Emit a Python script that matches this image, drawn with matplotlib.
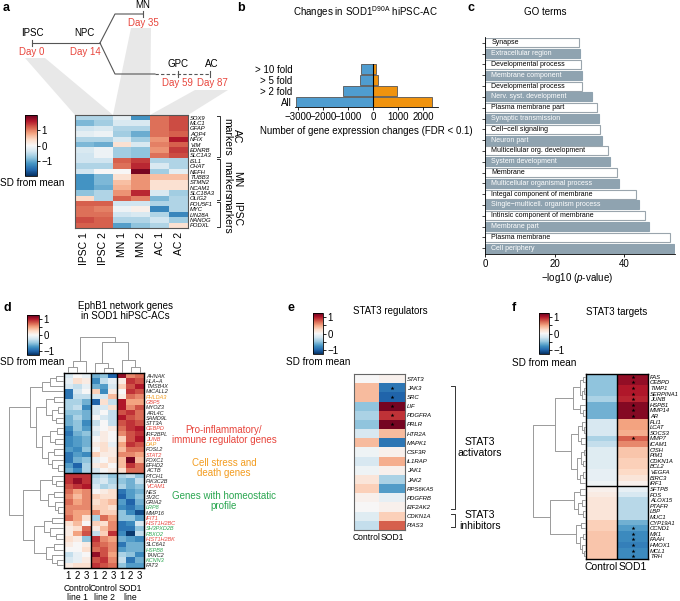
import numpy as np
import matplotlib
matplotlib.use('Agg')
import matplotlib.pyplot as plt
from matplotlib.patches import Polygon
from matplotlib.ticker import FixedLocator
from matplotlib import transforms

plt.rcParams['font.family'] = ['Liberation Sans', 'DejaVu Sans']
plt.rcParams['font.size'] = 7
plt.rcParams['mathtext.fontset'] = 'custom'
plt.rcParams['mathtext.rm'] = 'Liberation Sans'
plt.rcParams['mathtext.it'] = 'Liberation Sans:italic'
plt.rcParams['axes.linewidth'] = 0.6

RED = '#e8453c'
ORANGE = '#f39c1f'
GREEN = '#2aa650'
DENDRO = '#9a9a9a'
CMAP = 'RdBu_r'

# ---------------- panel a ----------------
a_stages = ['IPSC', 'NPC', 'MN', 'GPC', 'AC']
a_days = ['Day 0', 'Day 14', 'Day 35', 'Day 59', 'Day 87']
a_samples = ['IPSC 1', 'IPSC 2', 'MN 1', 'MN 2', 'AC 1', 'AC 2']
a_genes = ['SOX9', 'MLC1', 'GFAP', 'AQP4', 'NFIX', 'VIM', 'EDNRB', 'SLC1A3',
           'ISL1', 'CHAT', 'NEFH', 'TUBB3', 'STMN2', 'NCAM1', 'SLC18A3', 'OLIG2',
           'POU5F1', 'MYC', 'LIN28A', 'NANOG', 'PODXL']
a_values = [
    [-0.6, -0.6, -0.2, -1.2, 1.1, 1.3],
    [-0.9, -0.7, -0.3, -0.3, 1.1, 1.3],
    [-0.4, -0.3, -0.6, -0.6, 1.1, 1.3],
    [-0.2, -0.1, -0.7, -1.0, 1.1, 1.2],
    [-0.6, -0.6, -0.3, -0.7, 0.9, 1.6],
    [-0.9, -1.0, 0.3, -0.3, 1.0, 1.2],
    [-0.3, -0.1, -0.7, -0.8, 0.9, 1.4],
    [-0.4, -0.1, -0.7, -0.8, 1.1, 1.3],
    [-0.4, -0.4, 1.2, 1.4, -0.6, -0.6],
    [-0.6, -0.6, 1.1, 1.5, -0.3, -0.6],
    [-0.4, 0.0, 0.0, 1.9, -0.7, -0.2],
    [-1.2, -0.9, 0.3, 0.9, 0.6, 0.6],
    [-1.2, -0.9, 0.6, 0.9, 0.3, 0.3],
    [-1.2, -1.0, 0.7, 0.9, 0.3, 0.3],
    [-0.8, -0.6, 0.9, 1.5, -0.3, -0.7],
    [0.4, -0.6, 1.2, 1.0, -0.9, -0.6],
    [1.2, 1.2, -0.4, -0.4, -0.6, -0.6],
    [1.1, 1.0, -0.1, 0.1, -1.3, -0.6],
    [1.1, 1.1, -0.4, -0.3, -0.6, -1.3],
    [1.3, 1.2, -0.6, -0.6, -0.4, -0.7],
    [1.2, 1.2, -1.1, -0.8, -0.6, 0.3],
]
a_groups = [('AC', 0, 7), ('MN', 8, 15), ('IPSC', 16, 20)]

# ---------------- panel b ----------------
b_cats = ['All', '> 2 fold', '> 5 fold', '> 10 fold']
b_down = [-3100, -1200, -530, -470]
b_up = [2350, 970, 200, 130]

# ---------------- panel c ----------------
c_terms = ['Synapse', 'Extracellular region', 'Developmental process',
           'Membrane component', 'Developmental process', 'Nerv. syst. development',
           'Plasma membrane part', 'Synaptic transmission', 'Cell\u2212cell signaling',
           'Neuron part', 'Multicellular org. development', 'System development',
           'Membrane', 'Multicellular organismal process', 'Integal component of membrane',
           'Single\u2212multicell. organism process', 'Intinsic component of membrane',
           'Membrane part', 'Plasma membrane', 'Cell periphery']
c_vals = [27.1, 27.3, 27.6, 27.9, 27.9, 30.6, 32.1, 32.8, 33.0, 33.6,
          35.2, 35.9, 37.8, 38.4, 43.2, 44.2, 45.8, 46.9, 53.2, 54.3]

# ---------------- panel d ----------------
d_genes = ['AHNAK', 'HLA\u2212A', 'TMSB4X', 'MICALL2', 'PHLDA3', 'GBP5', 'MYOZ3', 'ARL4C',
           'SAMD9L', 'STT3A', 'CEBPD', 'IRF2BPL', 'JUNB', 'DAP', 'FOSL2', 'STAT2',
           'FOXC1', 'EFHD2', 'ACTB', 'PTCH1', 'PIK3C2B', 'VCAM1', 'NES', 'SV2C',
           'GRIA2', 'LRP8', 'MMP16', 'IFIT1', 'HIST1H2BC', 'SH3PXD2B', 'FBXO2',
           'HIST1H2BK', 'SLC6A1', 'HSPB8', 'TANC2', 'KCNN3', 'FAT3']
d_cat = ['k', 'k', 'k', 'k', 'o', 'r', 'k', 'k', 'k', 'k', 'r', 'k', 'r', 'o', 'k', 'r',
         'k', 'k', 'k', 'k', 'k', 'r', 'k', 'k', 'k', 'g', 'k', 'r', 'r', 'g', 'g',
         'r', 'k', 'g', 'k', 'g', 'k']
d_reps = ['1', '2', '3'] * 3
d_lines = ['Control\nline 1', 'Control\nline 2', 'SOD1\nline']
d_values = [
    [-0.2, 0.0, -0.1, -0.6, -0.5, -1.0, 1.1, 0.6, 0.7],
    [-0.1, 0.2, 0.1, -0.8, -0.3, -0.1, 0.1, 0.9, 0.8],
    [-0.2, -0.3, -0.1, -0.6, -0.7, -0.2, 0.3, 0.8, 1.0],
    [-0.9, -0.2, 0.0, 0.3, -0.8, 0.1, 0.0, 0.9, 0.8],
    [-0.9, -0.3, -0.3, -0.2, -0.2, 0.4, 0.1, 0.7, 0.6],
    [-0.4, -0.4, -0.6, -1.0, 0.2, -0.3, 1.0, 0.5, 0.5],
    [-0.4, -0.3, -0.8, -0.2, -0.2, 0.2, 1.0, 0.6, 0.8],
    [-0.5, -0.5, -0.6, -0.2, 0.0, -0.3, 0.8, 0.9, 0.7],
    [-0.6, -0.4, -0.6, 0.0, -0.2, -0.3, 1.0, 0.8, 0.7],
    [-0.6, -0.5, -0.8, -0.3, 0.0, -0.3, 0.8, 0.9, 0.8],
    [-0.8, -0.5, -0.7, -0.1, 0.0, 0.1, 0.7, 0.9, 1.0],
    [-0.9, -0.6, -0.5, -0.2, 0.1, 0.0, 0.6, 0.8, 0.9],
    [-0.8, -0.7, -0.6, 0.0, 0.1, 0.0, 0.3, 0.8, 1.0],
    [-0.8, -0.7, -0.6, 0.1, 0.2, -0.1, 0.5, 0.9, 0.8],
    [-0.7, -0.8, -0.5, 0.0, 0.2, 0.1, 0.4, 0.7, 0.7],
    [-0.9, -0.7, -0.8, 0.3, 0.1, 0.1, 0.6, 0.6, 0.5],
    [-0.9, -0.6, -0.5, -0.1, 0.0, 0.2, 0.4, 1.2, 0.4],
    [-0.7, -1.0, -0.4, 0.1, 0.2, 0.0, 0.4, 0.9, 0.7],
    [-0.6, -0.8, -0.4, -0.2, 0.0, 0.1, 0.2, 0.7, 0.7],
    [0.9, 0.9, 0.9, -0.4, -0.3, -0.5, -0.4, -0.3, -0.5],
    [0.9, 1.1, 0.9, -0.3, -0.2, -0.4, -0.5, -0.6, -0.3],
    [0.8, 0.9, 1.0, -0.2, -0.4, -0.3, -0.4, -0.6, -0.5],
    [0.7, 0.5, 0.6, 0.0, 0.1, 0.2, -0.9, -0.7, -0.6],
    [0.6, 0.4, 0.6, 0.3, 0.2, 0.2, -1.0, -0.7, -0.5],
    [0.7, 0.5, 0.6, 0.2, 0.3, 0.4, -0.7, -1.0, -0.6],
    [0.6, 0.6, 0.6, 0.3, 0.3, 0.2, -0.8, -0.9, -0.7],
    [0.6, 0.5, 0.5, 0.6, 0.3, 0.3, -0.5, -0.8, -1.1],
    [0.7, 0.5, 0.2, -0.4, 0.7, 0.5, -0.5, -0.5, -0.7],
    [0.2, 0.4, 0.0, 0.3, 0.2, 0.6, -0.9, -0.8, -0.2],
    [0.1, 0.2, 0.7, 0.1, 0.4, 0.6, -0.9, -0.9, -0.5],
    [0.1, 0.5, 0.8, -0.3, 0.3, 0.9, -0.8, -1.2, -0.3],
    [0.2, 0.1, -0.5, 0.9, 0.6, 0.5, -0.6, -0.7, -0.8],
    [0.1, 0.0, 0.1, 0.8, 0.7, 0.6, -0.9, -0.6, -0.6],
    [0.0, 0.0, 0.2, 0.7, 0.8, 0.6, -0.7, -0.6, -0.6],
    [-0.3, -0.1, 0.0, 1.1, 0.8, 0.5, -0.4, -0.5, -0.8],
    [-0.2, -0.1, 0.1, 0.8, 0.9, 0.6, -0.3, -0.9, -0.6],
    [0.1, 0.2, 0.2, 0.9, 0.8, 0.7, -0.5, -0.7, -0.7],
]
# dendrograms as (merge height, left, right); leaves are row / column indices
d_row_tree = (55,
              (34, (22, (14, (8, 0, 1), 2), 3),
                   (28, (18, (10, 4, 5), (12, (6, 6, 7), (8, 8, 9))),
                        (22, (14, (7, 10, 11), (9, 12, 13)),
                             (16, (10, 14, 15), (12, 16, (6, 17, 18)))))),
              (41, (24, (12, 19, (8, 20, 21)), (16, (10, 22, 23), (9, 24, (6, 25, 26)))),
                   (30, (20, (12, 27, 28), (14, 29, (8, 30, 31))),
                        (18, (10, 32, 33), (12, 34, (7, 35, 36))))))
d_col_tree = (36, (12, (6, 0, 1), 2), (31, (10, 3, (5, 4, 5)), (13, 6, (6, 7, 8))))
d_notes = [('Pro-inflammatory/\nimmune regulator genes', RED),
           ('Cell stress and\ndeath genes', ORANGE),
           ('Genes with homeostatic\nprofile', GREEN)]

# ---------------- panel e ----------------
e_genes = ['STAT3', 'JAK3', 'SRC', 'LIF', 'PDGFRA', 'PRLR', 'HTR2A', 'MAPK1', 'CSF3R',
           'IL1RAP', 'JAK1', 'JAK2', 'RPS6KA5', 'PDGFRB', 'EIF2AK2', 'CDKN1A', 'PIAS3']
e_values = [[0.0, 0.05], [0.4, -0.9], [0.4, -1.0], [-0.5, 1.2], [-0.4, 0.9],
            [-0.5, 1.2], [-0.2, 0.4], [0.4, -0.9], [-0.05, 0.05], [-0.2, 0.45],
            [-0.05, 0.05], [0.15, -0.4], [0.3, -0.7], [0.05, -0.1], [0.0, 0.05],
            [-0.15, 0.3], [-0.3, 0.75]]
e_stars = [1, 2, 3, 4, 5]
e_brackets = [('STAT3\nactivators', 1, 14), ('STAT3\ninhibitors', 15, 16)]
cond = ['Control', 'SOD1']

# ---------------- panel f ----------------
f_genes = ['FAS', 'CEBPD', 'TIMP1', 'SERPINA1', 'JUNB', 'HSPB1', 'MMP14', 'AR', 'FLI1',
           'LCAT', 'SOCS3', 'MMP7', 'ICAM1', 'CISH', 'PIM1', 'CDKN1A', 'BCL2', 'VEGFA',
           'BIRC3', 'IRF1', 'SFTPB', 'FOS', 'ALOX15', 'PTAFR', 'LBP', 'MUC1', 'CYP19A1',
           'CCND1', 'MX1', 'FAAH', 'HMOX1', 'MCL1', 'TRH']
f_values = [[-0.5, 1.1], [-0.5, 1.1], [-0.5, 1.0], [-0.5, 1.0], [-0.4, 0.95],
            [-0.6, 1.15], [-0.6, 1.15], [-0.6, 1.15], [-0.2, 0.5], [-0.2, 0.5],
            [-0.2, 0.45], [-0.4, 0.75], [-0.3, 0.6], [-0.15, 0.35], [-0.15, 0.35],
            [-0.15, 0.3], [-0.15, 0.3], [-0.1, 0.25], [-0.1, 0.15], [-0.05, 0.05],
            [0.05, -0.1], [0.1, -0.2], [0.15, -0.35], [0.15, -0.35], [0.15, -0.35],
            [0.15, -0.35], [0.3, -0.6], [0.3, -0.7], [0.35, -0.8], [0.35, -0.8],
            [0.35, -0.85], [0.35, -0.8], [0.35, -0.8]]
f_stars = [0, 1, 2, 3, 4, 5, 6, 7, 11, 27, 28, 29, 30, 31, 32]
f_row_tree = (53,
              (31, (13, (6, (3, 0, 1), (4, (2, 2, 3), 4)), (6, 5, (3, 6, 7))),
                   (15, (8, (4, 8, (2, 9, 10)), (5, 11, 12)),
                        (9, (5, (2, 13, 14), (3, 15, 16)), (6, (3, 17, 18), 19)))),
              (36, (12, (6, 20, 21), (8, (4, 22, 23), (3, 24, 25))),
                   (10, (5, 26, 27), (6, (3, 28, 29), (4, 30, (2, 31, 32))))))

W, H = 680, 601
fig = plt.figure(figsize=(6.8, 6.01), dpi=100)
ov = fig.add_axes([0, 0, 1, 1])
ov.set_xlim(0, W)
ov.set_ylim(H, 0)
ov.axis('off')


def px_axes(x0, y0, x1, y1):
    return fig.add_axes([x0 / W, 1 - y1 / H, (x1 - x0) / W, (y1 - y0) / H])


def draw_tree(ax, node, rows=True):
    if isinstance(node, int):
        return node, 0.0
    h, l, r = node
    pl, hl = draw_tree(ax, l, rows)
    pr, hr = draw_tree(ax, r, rows)
    if rows:
        ax.plot([hl, h, h, hr], [pl, pl, pr, pr], color=DENDRO, lw=0.7)
    else:
        ax.plot([pl, pl, pr, pr], [hl, h, h, hr], color=DENDRO, lw=0.7)
    return (pl + pr) / 2, h


def colorbar(im, box, ticks, minor=True):
    cax = px_axes(*box)
    cb = fig.colorbar(im, cax=cax, ticks=ticks)
    cb.outline.set_linewidth(0.6)
    cb.ax.tick_params(labelsize=7, length=2, width=0.6, pad=1)
    if minor:
        cb.ax.yaxis.set_minor_locator(FixedLocator([-0.5, 0.5]))
        cb.ax.tick_params(which='minor', length=2, width=0.6)
    else:
        cb.ax.minorticks_off()
    return cb


def bracket(ax, x, r0, r1, tick):
    ax.plot([x - tick, x, x, x - tick], [r0, r0, r1, r1], color='#333333', lw=0.7,
            clip_on=False)


def heat(ax, values, vmin, vmax):
    arr = np.array(values)
    im = ax.imshow(arr, cmap=CMAP, vmin=vmin, vmax=vmax, aspect='auto',
                   interpolation='nearest')
    ax.set_xlim(-0.5, arr.shape[1] - 0.5)
    ax.set_ylim(arr.shape[0] - 0.5, -0.5)
    ax.autoscale(False)
    return im


def gene_labels(ax, genes, size, colors=None):
    ax.yaxis.tick_right()
    ax.set_yticks(range(len(genes)))
    ax.set_yticklabels(genes, fontsize=size, style='italic')
    ax.tick_params(axis='y', length=0, pad=1.5)
    if colors is not None:
        for lab, c in zip(ax.get_yticklabels(), colors):
            lab.set_color(c)


# panel letters
for s, x, y in [('a', 3, 8), ('b', 237, 8), ('c', 468, 8), ('d', 3, 308),
                ('e', 288, 308), ('f', 512, 308)]:
    ov.text(x, y, s, fontsize=9, fontweight='bold', ha='left', va='center')

# ---------------- a: timeline ----------------
lc = '#555555'
for poly in [[(25, 58), (45, 58), (113, 115), (75, 115)],
             [(131, 28), (151, 28), (150, 115), (113, 115)],
             [(195, 90), (228, 90), (188, 115), (150, 115)]]:
    ov.add_patch(Polygon(poly, closed=True, facecolor='#e8e8e8', edgecolor='none', zorder=0))
ov.plot([32, 100], [43, 43], color=lc, lw=0.8)
ov.plot([100, 115, 143], [43, 14, 14], color=lc, lw=0.8)
ov.plot([100, 115, 155], [43, 74, 74], color=lc, lw=0.8)
ov.plot([155, 210], [74, 74], color=lc, lw=0.8, ls=(0, (3, 2)))
for tx, ty in [(32, 43), (143, 14), (178, 74), (210, 74)]:
    ov.plot([tx, tx], [ty - 3, ty + 3], color=lc, lw=0.8)
stage_xy = [(32, 33), (84, 33), (143, 5), (178, 64), (212, 64)]
day_xy = [(32, 52), (85, 52), (143, 23), (177, 83), (212, 83)]
for s, (x, y) in zip(a_stages, stage_xy):
    ov.text(x, y, s, fontsize=7, ha='center', va='center')
for s, (x, y) in zip(a_days, day_xy):
    ov.text(x, y, s, fontsize=7, ha='center', va='center', color=RED)

# ---------------- a: heatmap ----------------
ax = px_axes(75, 115, 188, 228)
im = heat(ax, a_values, -2, 2)
gene_labels(ax, a_genes, 4.2)
ax.set_xticks(range(len(a_samples)))
ax.set_xticklabels(a_samples, rotation=90, fontsize=7.5)
ax.tick_params(axis='x', length=0, pad=3)
for sp in ax.spines.values():
    sp.set_color('#555555')
    sp.set_linewidth(0.8)
for name, r0, r1 in a_groups:
    bracket(ax, 7.2, r0 - 0.3, r1 + 0.3, 0.18)
    ax.text(7.85, (r0 + r1) / 2, name + '\nmarkers', rotation=270, ha='center',
            va='center', fontsize=7.5, linespacing=1.0)
colorbar(im, (25, 115, 37, 176), [-1, 0, 1], minor=False)
ov.text(32, 183, 'SD from mean', ha='center', va='center', fontsize=7.2)

# ---------------- b ----------------
ax = px_axes(295, 64, 438, 107)
yb = np.arange(len(b_cats))
ax.barh(yb, b_down, height=0.95, color='#4f9dd0', edgecolor='#555555', lw=0.6)
ax.barh(yb, b_up, height=0.95, color='#f0930e', edgecolor='#555555', lw=0.6)
ax.axvline(0, color='k', lw=0.8)
ax.set_xlim(-3120, 2600)
ax.set_ylim(-0.5, 3.5)
ax.set_yticks(yb)
ax.set_yticklabels(b_cats, fontsize=7)
ax.tick_params(axis='y', length=0, pad=2)
ax.set_xticks([-3000, -2000, -1000, 0, 1000, 2000])
ax.tick_params(axis='x', labelsize=7, length=2, width=0.6, pad=1.5)
for sp in ['top', 'right', 'left']:
    ax.spines[sp].set_visible(False)
ov.text(365, 12, 'Changes in SOD1$^{\\mathrm{D90A}}$ hiPSC-AC', ha='center', va='center',
        fontsize=7)
ov.text(366, 131, 'Number of gene expression changes (FDR < 0.1)', ha='center',
        va='center', fontsize=7)

# ---------------- c ----------------
ax = px_axes(485, 37.5, 675, 253.5)
yc = np.arange(len(c_terms))
fills = ['white' if i % 2 == 0 else '#8fa3b0' for i in yc]
edges = ['#9aa5ad' if i % 2 == 0 else '#8fa3b0' for i in yc]
ax.barh(yc, c_vals, height=0.82, color=fills, edgecolor=edges, lw=0.8)
for i, t in enumerate(c_terms):
    ax.text(1.8, i, t, va='center', ha='left', fontsize=5,
            color='k' if i % 2 == 0 else 'white')
ax.set_ylim(len(c_terms) - 0.5, -0.5)
ax.set_xlim(0, 54.5)
ax.set_yticks(yc)
ax.set_yticklabels([])
ax.tick_params(axis='y', length=2, width=0.5)
ax.set_xticks([0, 20, 40])
ax.tick_params(axis='x', labelsize=7, length=2, width=0.6, pad=2)
for sp in ['top', 'right']:
    ax.spines[sp].set_visible(False)
ov.text(545, 12, 'GO terms', ha='center', va='center', fontsize=7)
ov.text(577, 278, '\u2212log10 ($p$-value)', ha='center', va='center', fontsize=7)

# ---------------- d ----------------
ax = px_axes(64, 373, 144, 568)
im = heat(ax, d_values, -1.25, 1.25)
cmap_cat = {'k': '#222222', 'r': RED, 'o': ORANGE, 'g': GREEN}
gene_labels(ax, d_genes, 4.0, [cmap_cat[c] for c in d_cat])
ax.set_xticks(range(len(d_reps)))
ax.set_xticklabels(d_reps, fontsize=7)
ax.tick_params(axis='x', length=0, pad=2)
ax.axvline(2.5, color='k', lw=1)
ax.axvline(5.5, color='k', lw=1)
ax.axhline(18.5, color='k', lw=1)
for sp in ax.spines.values():
    sp.set_linewidth(1)
blend = transforms.blended_transform_factory(ax.transData, ov.transData)
for i, s in enumerate(d_lines):
    ax.text(3 * i + 1, 593, s, transform=blend, ha='center', va='center', fontsize=6.2,
            linespacing=1.05)
rd = px_axes(8, 373, 64, 568)
draw_tree(rd, d_row_tree, rows=True)
rd.set_xlim(56, 0)
rd.set_ylim(len(d_genes) - 0.5, -0.5)
rd.axis('off')
cd = px_axes(64, 335, 144, 373)
draw_tree(cd, d_col_tree, rows=False)
cd.set_xlim(-0.5, len(d_reps) - 0.5)
cd.set_ylim(0, 38)
cd.axis('off')
colorbar(im, (27, 315, 39, 355), [-1, 0, 1])
ov.text(32, 362, 'SD from mean', ha='center', va='center', fontsize=7.2)
ov.text(125, 311, 'EphB1 network genes\nin SOD1 hiPSC-ACs', ha='center', va='center',
        fontsize=7, linespacing=1.1)
for (s, c), y in zip(d_notes, [435, 468, 501]):
    ov.text(224, y, s, color=c, ha='center', va='center', fontsize=7, linespacing=1.1)

# ---------------- e ----------------
ax = px_axes(354, 374, 405, 530)
im = heat(ax, e_values, -1.25, 1.25)
gene_labels(ax, e_genes, 4.3)
ax.set_xticks(range(2))
ax.set_xticklabels(cond, fontsize=6.2)
ax.tick_params(axis='x', length=0, pad=2)
for sp in ax.spines.values():
    sp.set_color('#666666')
    sp.set_linewidth(0.8)
ax.scatter([1] * len(e_stars), e_stars, marker='*', s=9, color='k', linewidths=0)
for s, r0, r1 in e_brackets:
    bracket(ax, 3.46, r0 - 0.2, r1 + 0.2, 0.15)
    ax.text(4.45, (r0 + r1) / 2, s, ha='center', va='center', fontsize=7.5,
            linespacing=1.1)
colorbar(im, (313, 313, 323, 354), [-1, 0, 1])
ov.text(318, 362, 'SD from mean', ha='center', va='center', fontsize=7.2)
ov.text(390, 311, 'STAT3 regulators', ha='center', va='center', fontsize=7)

# ---------------- f ----------------
ax = px_axes(586, 374, 648, 559)
im = heat(ax, f_values, -1.25, 1.25)
gene_labels(ax, f_genes, 4.2)
ax.set_xticks(range(2))
ax.set_xticklabels(cond, fontsize=7.5)
ax.tick_params(axis='x', length=0, pad=2)
ax.axvline(0.5, color='k', lw=1)
ax.axhline(19.5, color='k', lw=1)
for sp in ax.spines.values():
    sp.set_linewidth(1)
ax.scatter([1] * len(f_stars), f_stars, marker='*', s=9, color='k', linewidths=0)
rf = px_axes(530, 374, 586, 559)
draw_tree(rf, f_row_tree, rows=True)
rf.set_xlim(56, 0)
rf.set_ylim(len(f_genes) - 0.5, -0.5)
rf.axis('off')
colorbar(im, (539, 313, 549, 354), [-1, 0, 1])
ov.text(544, 363, 'SD from mean', ha='center', va='center', fontsize=7.2)
ov.text(617, 312, 'STAT3 targets', ha='center', va='center', fontsize=7)

fig.savefig('out.png', dpi=100)
